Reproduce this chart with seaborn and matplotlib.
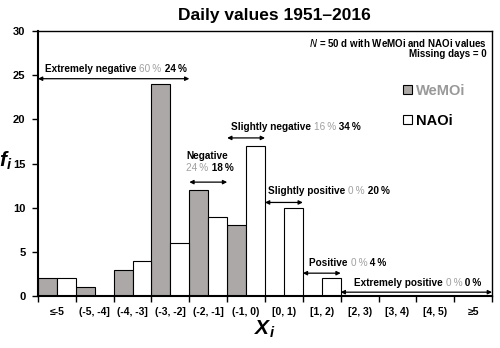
import numpy as np
import pandas as pd
import matplotlib.pyplot as plt
import seaborn as sns
from matplotlib.patches import Patch

kategoriler = ["≤-5", "(-5, -4]", "(-4, -3]", "(-3, -2]", "(-2, -1]", "(-1, 0)",
               "[0, 1)", "[1, 2)", "[2, 3)", "[3, 4)", "[4, 5)", "≥5"]
wemoi = [2, 1, 3, 24, 12, 8, 0, 0, 0, 0, 0, 0]
naoi = [2, 0, 4, 6, 9, 17, 10, 2, 0, 0, 0, 0]

siniflar = ["Extremely negative", "Negative", "Slightly negative",
            "Slightly positive", "Positive", "Extremely positive"]
yuzde_wemoi = [60, 24, 16, 0, 0, 0]
yuzde_naoi = [24, 18, 34, 20, 4, 0]

gri = "#aca8a6"
acik_gri = "#a0a0a0"

df = pd.DataFrame({
    "Xi": kategoriler * 2,
    "fi": wemoi + naoi,
    "Index": ["WeMOi"] * len(wemoi) + ["NAOi"] * len(naoi),
})

sns.set_theme(style="white")
plt.rcParams["font.family"] = ["Liberation Sans", "DejaVu Sans"]
plt.rcParams["mathtext.fontset"] = "custom"
plt.rcParams["mathtext.bfit"] = "Liberation Sans:bold:italic"
plt.rcParams["text.color"] = "black"
plt.rcParams["axes.labelcolor"] = "black"
plt.rcParams["xtick.color"] = "black"
plt.rcParams["ytick.color"] = "black"

fig = plt.figure(figsize=(5, 3.48), dpi=100)
ax = fig.add_axes([0.076, 0.149, 0.908, 0.762])

sns.barplot(data=df, x="Xi", y="fi", hue="Index", order=kategoriler,
            hue_order=["WeMOi", "NAOi"], palette={"WeMOi": gri, "NAOi": "white"},
            width=1.0, gap=0, edgecolor="black", linewidth=0.8, ax=ax, legend=False)

ax.set_xlim(-0.5, 11.5)
ax.set_ylim(0, 30)
ax.set_yticks(range(0, 31, 5))
ax.set_xticks(np.arange(-0.5, 12, 1), minor=True)
ax.tick_params(axis="x", which="major", length=0, pad=8, labelsize=7.5)
ax.tick_params(axis="x", which="minor", length=4, width=1, direction="out", color="black", bottom=True)
ax.tick_params(axis="y", length=4, width=1, direction="out", color="black", left=True, labelsize=8, pad=5)
for lab in ax.get_xticklabels() + ax.get_yticklabels():
    lab.set_fontweight("bold")
for sp in ax.spines.values():
    sp.set_color("black")
    sp.set_linewidth(1)
ax.spines["left"].set_linewidth(1.5)
ax.spines["bottom"].set_linewidth(1.5)

ax.set_xlabel(r"$\mathbfit{X_i}$", fontsize=15, labelpad=1)
ax.set_ylabel(r"$\mathbfit{f_i}$", fontsize=15, rotation=0)
ax.yaxis.set_label_coords(-0.07, 0.47)
ax.set_title("Daily values 1951\u20132016", fontsize=12.5, fontweight="bold", x=0.52, pad=8)

# sinif oklari: (x0, x1, y_ok, x_metin, y_metin)
oklar = [(-0.5, 3.5, 24.6, -0.31, 25.7),
         (3.5, 4.5, 12.9, 3.42, 14.5),
         (4.5, 5.5, 17.9, 4.61, 19.1),
         (5.5, 6.5, 10.6, 5.58, 11.9),
         (6.5, 7.5, 2.6, 6.67, 3.7),
         (7.5, 11.5, 0.45, 7.86, 1.5)]

def renkli_metin(x, y, parcalar):
    onceki = None
    for metin, renk, kalin in parcalar:
        if onceki is None:
            onceki = ax.text(x, y, metin, color=renk, fontsize=7.2,
                             fontweight="bold" if kalin else "normal", va="center", ha="left")
        else:
            onceki = ax.annotate(metin, xy=(1, 0), xycoords=onceki, xytext=(0, 0),
                                 textcoords="offset points", color=renk, fontsize=7.2,
                                 fontweight="bold" if kalin else "normal", va="bottom", ha="left")

for i, (x0, x1, yo, xt, yt) in enumerate(oklar):
    ax.annotate("", xy=(x0, yo), xytext=(x1, yo),
                arrowprops=dict(arrowstyle="<|-|>", color="black", lw=0.9,
                                mutation_scale=6, shrinkA=0, shrinkB=0))
    pw = f"{yuzde_wemoi[i]}\u2009%"
    pn = f" {yuzde_naoi[i]}\u2009%"
    if siniflar[i] == "Negative":
        ax.text(xt, 15.9, siniflar[i], fontsize=7.2, fontweight="bold", va="center", ha="left")
        renkli_metin(xt, yt, [(pw, acik_gri, False), (pn, "black", True)])
    else:
        renkli_metin(xt, yt, [(siniflar[i] + " ", "black", True), (pw, acik_gri, False), (pn, "black", True)])

ax.text(0.988, 0.955, r"$\mathit{N}$ = 50 d with WeMOi and NAOi values", transform=ax.transAxes,
        ha="right", va="center", fontsize=7, fontweight="bold")
ax.text(0.988, 0.915, "Missing days = 0", transform=ax.transAxes,
        ha="right", va="center", fontsize=7, fontweight="bold")

tutamaclar = [Patch(facecolor=gri, edgecolor="black", linewidth=0.8),
              Patch(facecolor="white", edgecolor="black", linewidth=0.8)]
leg = ax.legend(tutamaclar, ["WeMOi", "NAOi"], loc="upper left", bbox_to_anchor=(0.775, 0.85),
                frameon=False, handlelength=0.6, handleheight=0.6, handletextpad=0.3,
                labelspacing=1.1, prop={"weight": "bold", "size": 10.5},
                labelcolor=["#999999", "black"])

fig.savefig("out.png", dpi=100)
